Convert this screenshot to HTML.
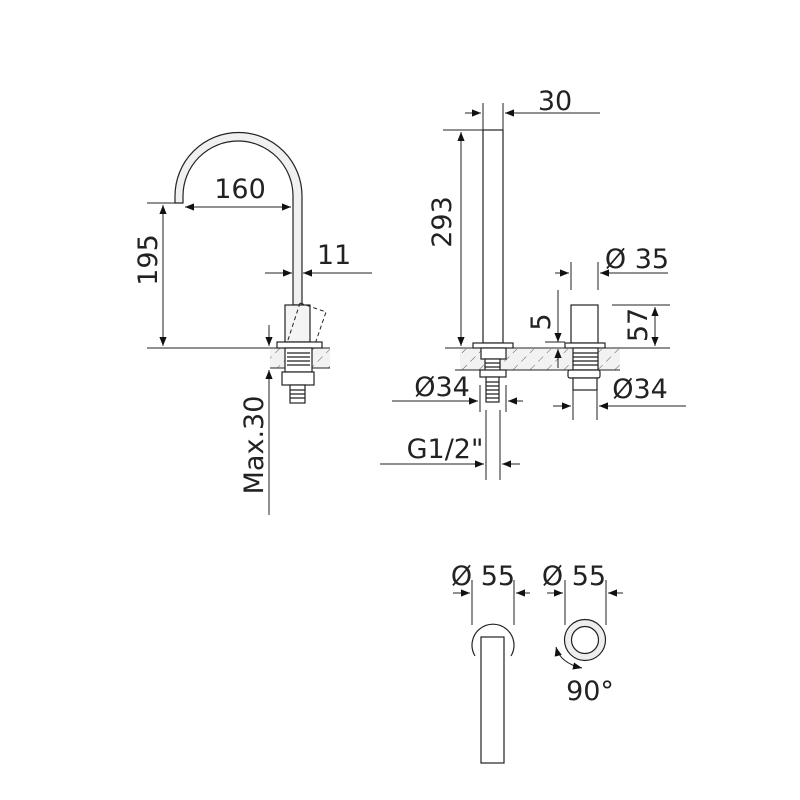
<!DOCTYPE html>
<html><head><style>body{margin:0;background:#fff}svg{display:block}text{font-family:"DejaVu Sans","Liberation Sans",sans-serif;fill:#222}</style></head><body>
<svg width="800" height="800" viewBox="0 0 800 800" xmlns="http://www.w3.org/2000/svg">
<defs>
<marker id="a" viewBox="0 0 10 10" refX="10" refY="5" markerWidth="15" markerHeight="9" orient="auto-start-reverse" markerUnits="userSpaceOnUse"><path d="M0,1 L10,5 L0,9z" fill="#111"/></marker>
<pattern id="h" width="12" height="12" patternUnits="userSpaceOnUse" patternTransform="rotate(45)"><rect width="12" height="12" fill="#f2f2f2"/><line x1="0" y1="0" x2="0" y2="12" stroke="#555" stroke-width="1" stroke-dasharray="7 5"/></pattern>
</defs>
<g stroke="#222" fill="none" stroke-width="1.2">
<path d="M175,203 L175,196 A63.5,63.5 0 0 1 302,196 L302,305 L293,305 L293,196 A55,55 0 0 0 183,196 L183,203 Z" fill="#f0f0f0"/>
<rect x="285" y="305" width="25" height="37" fill="#f4f4f4"/>
<path d="M300,303 L326,312 L314,347 M300,303 L288,340" stroke-dasharray="4 3" stroke-width="1"/>
<rect x="270" y="348" width="60" height="20" fill="url(#h)" stroke="none"/>
<line x1="270" y1="368" x2="330" y2="368" stroke-width="1"/>
<rect x="277" y="342" width="45" height="6" fill="#fff"/>
<rect x="285" y="348" width="27" height="24" fill="#fff"/>
<path d="M287,353h23M287,357h23M287,361h23M287,365h23"/>
<rect x="282" y="372" width="32" height="13" fill="#fff"/>
<rect x="290" y="385" width="15" height="18" fill="#fff"/>
<path d="M290,390h15M290,394h15M290,398h15"/>
<line x1="147" y1="348" x2="330" y2="348" stroke-width="1"/>
<line x1="147" y1="203" x2="175" y2="203" stroke-width="1"/>
<line x1="163" y1="205" x2="163" y2="346" marker-start="url(#a)" marker-end="url(#a)" stroke-width="1"/>
<line x1="185" y1="207" x2="291" y2="207" marker-start="url(#a)" marker-end="url(#a)" stroke-width="1"/>
<line x1="265" y1="273" x2="292" y2="273" marker-end="url(#a)" stroke-width="1"/>
<line x1="372" y1="273" x2="303" y2="273" marker-end="url(#a)" stroke-width="1"/>
<line x1="269" y1="325" x2="269" y2="346" marker-end="url(#a)" stroke-width="1"/>
<line x1="269" y1="515" x2="269" y2="370" marker-end="url(#a)" stroke-width="1"/>
<line x1="445" y1="348" x2="670" y2="348" stroke-width="1"/>
<rect x="460" y="349" width="160" height="21" fill="url(#h)" stroke="none"/>
<line x1="455" y1="370" x2="620" y2="370" stroke-width="1"/>
<rect x="483" y="130" width="20" height="213" fill="#fff"/>
<rect x="473" y="343" width="40" height="5" fill="#fff"/>
<rect x="481" y="348" width="25" height="11" fill="#fff"/>
<rect x="485" y="359" width="15" height="12" fill="#fff"/>
<path d="M485,363h15M485,367h15"/>
<rect x="480" y="370" width="26" height="7" fill="#fff"/>
<rect x="486" y="377" width="13" height="25" fill="#fff"/>
<path d="M486,382h13M486,386h13M486,390h13M486,394h13M486,398h13"/>
<line x1="483" y1="103" x2="483" y2="130" stroke-width="1"/>
<line x1="503" y1="103" x2="503" y2="130" stroke-width="1"/>
<line x1="465" y1="113" x2="481" y2="113" marker-end="url(#a)" stroke-width="1"/>
<line x1="600" y1="113" x2="505" y2="113" marker-end="url(#a)" stroke-width="1"/>
<line x1="443" y1="130" x2="483" y2="130" stroke-width="1"/>
<line x1="461" y1="132" x2="461" y2="346" marker-start="url(#a)" marker-end="url(#a)" stroke-width="1"/>
<line x1="480" y1="385" x2="480" y2="412" stroke-width="1"/><line x1="506" y1="385" x2="506" y2="412" stroke-width="1"/>
<line x1="392" y1="401" x2="478" y2="401" marker-end="url(#a)" stroke-width="1"/>
<line x1="523" y1="401" x2="508" y2="401" marker-end="url(#a)" stroke-width="1"/>
<line x1="486" y1="410" x2="486" y2="480" stroke-width="1"/><line x1="500" y1="410" x2="500" y2="480" stroke-width="1"/>
<line x1="380" y1="464" x2="484" y2="464" marker-end="url(#a)" stroke-width="1"/>
<line x1="520" y1="464" x2="502" y2="464" marker-end="url(#a)" stroke-width="1"/>
<rect x="571" y="305" width="27" height="38" fill="#fff"/>
<rect x="565" y="343" width="40" height="5" fill="#fff"/>
<rect x="573" y="348" width="25" height="22" fill="#fff"/>
<path d="M573,353h25M573,357h25M573,361h25M573,365h25"/>
<rect x="568" y="370" width="32" height="8" rx="2" fill="#fff"/>
<rect x="573" y="378" width="24" height="12" fill="#fff"/>
<line x1="573" y1="390" x2="573" y2="420" stroke-width="1"/><line x1="597" y1="390" x2="597" y2="420" stroke-width="1"/>
<line x1="553" y1="406" x2="571" y2="406" marker-end="url(#a)" stroke-width="1"/>
<line x1="686" y1="406" x2="599" y2="406" marker-end="url(#a)" stroke-width="1"/>
<line x1="571" y1="262" x2="571" y2="290" stroke-width="1"/><line x1="598" y1="262" x2="598" y2="290" stroke-width="1"/>
<line x1="555" y1="273" x2="569" y2="273" marker-end="url(#a)" stroke-width="1"/>
<line x1="668" y1="273" x2="600" y2="273" marker-end="url(#a)" stroke-width="1"/>
<line x1="558" y1="290" x2="558" y2="342" marker-end="url(#a)" stroke-width="1"/>
<line x1="558" y1="368" x2="558" y2="349" marker-end="url(#a)" stroke-width="1"/>
<line x1="545" y1="342" x2="565" y2="342" stroke-width="1"/>
<line x1="612" y1="305" x2="670" y2="305" stroke-width="1"/>
<line x1="655" y1="307" x2="655" y2="346" marker-start="url(#a)" marker-end="url(#a)" stroke-width="1"/>
<line x1="472" y1="580" x2="472" y2="625" stroke-width="1"/><line x1="514" y1="580" x2="514" y2="625" stroke-width="1"/>
<line x1="453" y1="593" x2="470" y2="593" marker-end="url(#a)" stroke-width="1"/>
<line x1="530" y1="593" x2="516" y2="593" marker-end="url(#a)" stroke-width="1"/>
<path d="M475,656 A21,21 0 1 1 511,656"/>
<rect x="481" y="637" width="23" height="126" fill="#fff"/>
<line x1="565" y1="580" x2="565" y2="625" stroke-width="1"/><line x1="606" y1="580" x2="606" y2="625" stroke-width="1"/>
<line x1="547" y1="593" x2="563" y2="593" marker-end="url(#a)" stroke-width="1"/>
<line x1="623" y1="593" x2="608" y2="593" marker-end="url(#a)" stroke-width="1"/>
<circle cx="585" cy="640" r="20.5" fill="#eee"/>
<circle cx="585" cy="640" r="13.5" fill="#fff"/>
<path d="M556,647 Q560,663 582,668" marker-start="url(#a)" marker-end="url(#a)" stroke-width="1"/>
</g>
<g font-size="27">
<text x="240" y="198" text-anchor="middle">160</text>
<text x="334" y="264" text-anchor="middle">11</text>
<text transform="translate(157,260) rotate(-90)" text-anchor="middle">195</text>
<text transform="translate(263,445) rotate(-90)" text-anchor="middle">Max.30</text>
<text x="555" y="110" text-anchor="middle">30</text>
<text transform="translate(451,222) rotate(-90)" text-anchor="middle">293</text>
<text x="637" y="268" text-anchor="middle">Ø 35</text>
<text transform="translate(550,322) rotate(-90)" text-anchor="middle">5</text>
<text transform="translate(647,325) rotate(-90)" text-anchor="middle">57</text>
<text x="442" y="396" text-anchor="middle">Ø34</text>
<text x="640" y="398" text-anchor="middle">Ø34</text>
<text x="445" y="458" text-anchor="middle">G1/2"</text>
<text x="483" y="585" text-anchor="middle">Ø 55</text>
<text x="574" y="585" text-anchor="middle">Ø 55</text>
<text x="590" y="700" text-anchor="middle">90°</text>
</g>
</svg>
</body></html>
